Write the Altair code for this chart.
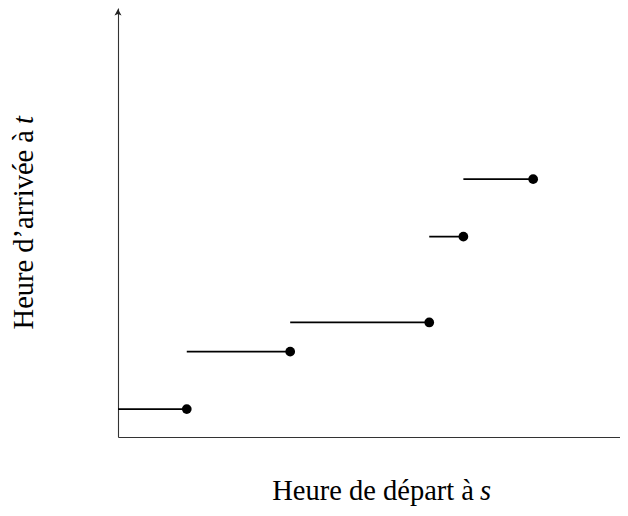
import altair as alt
import pandas as pd

# ---- data ----
x_start = [0, 13.7, 34.3, 62.0, 68.8]
x_end = [13.7, 34.3, 62.0, 68.8, 82.7]
y_val = [6.5, 19.9, 26.7, 46.7, 60.1]

x_title_main = "Heure de départ à"
x_title_var = "s"
y_title_main = "Heure d’arrivée à"
y_title_var = "t"

df = pd.DataFrame({"x0": x_start, "x1": x_end, "y": y_val})

W, H = 502, 429
FONT = "Liberation Serif"
FS = 28.5

xs = alt.Scale(domain=[0, 100], nice=False, zero=False)
ys = alt.Scale(domain=[0, 100], nice=False, zero=False)

xaxis = alt.Axis(labels=False, ticks=False, title=None, grid=False,
                 domainColor="#333333", domainWidth=1.1)
yaxis = alt.Axis(labels=False, ticks=False, title=None, grid=False,
                 domainColor="#333333", domainWidth=1.1)

base = alt.Chart(df)

segments = base.mark_rule(color="black", strokeWidth=1.7).encode(
    x=alt.X("x0:Q", scale=xs, axis=xaxis),
    x2="x1:Q",
    y=alt.Y("y:Q", scale=ys, axis=yaxis),
)

dots = base.mark_point(filled=True, color="black", opacity=1, size=95).encode(
    x=alt.X("x1:Q", scale=xs),
    y=alt.Y("y:Q", scale=ys),
)

arrow_df = pd.DataFrame({"x": [0], "y": [100]})
arrow = alt.Chart(arrow_df).mark_point(
    shape="M0,0.2L-0.7,1.5L0,1.22L0.7,1.5Z",
    filled=True, color="#222222", opacity=1, size=100,
).encode(x=alt.X("x:Q", scale=xs), y=alt.Y("y:Q", scale=ys))

lab = alt.Chart(pd.DataFrame({"a": [0]}))

x_main = lab.mark_text(font=FONT, fontSize=FS, align="right", baseline="alphabetic",
                       color="black").encode(
    x=alt.value(466 - 110), y=alt.value(492), text=alt.value(x_title_main))
x_var = lab.mark_text(font=FONT, fontSize=FS, fontStyle="italic", align="left",
                      baseline="alphabetic", color="black").encode(
    x=alt.value(472 - 110), y=alt.value(492), text=alt.value(x_title_var))

y_main = lab.mark_text(font=FONT, fontSize=FS, align="right", baseline="alphabetic",
                       angle=270, color="black").encode(
    x=alt.value(25 - 110), y=alt.value(122), text=alt.value(y_title_main))
y_var = lab.mark_text(font=FONT, fontSize=FS, fontStyle="italic", align="left",
                      baseline="alphabetic", angle=270, color="black").encode(
    x=alt.value(25 - 110), y=alt.value(116), text=alt.value(y_title_var))

chart = alt.layer(segments, dots, arrow, x_main, x_var, y_main, y_var).properties(
    width=W, height=H,
    padding={"left": 110, "top": 0, "right": 0, "bottom": 71},
    autosize=alt.AutoSizeParams(type="none"),
    background="white",
).configure_view(stroke=None)

chart.save("out.html", embed_options={"renderer": "svg", "actions": False})
